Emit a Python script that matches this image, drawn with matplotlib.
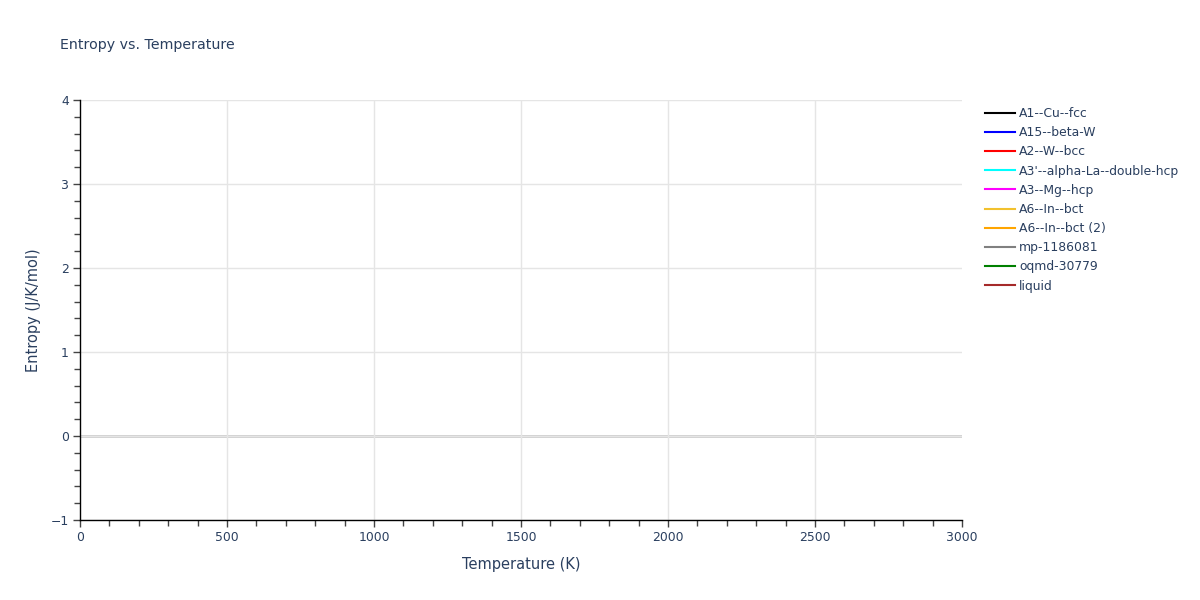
import matplotlib
matplotlib.use("Agg")
import matplotlib.pyplot as plt
from matplotlib.ticker import MultipleLocator, FuncFormatter

# Data (the reference chart contains no visible curve points)
phases = ["A1--Cu--fcc", "A15--beta-W", "A2--W--bcc", "A3'--alpha-La--double-hcp",
          "A3--Mg--hcp", "A6--In--bct", "A6--In--bct (2)", "mp-1186081",
          "oqmd-30779", "liquid"]
colors = ["black", "blue", "red", "cyan", "magenta", "#F2C12E", "orange",
          "grey", "green", "brown"]
temperatures = {p: [] for p in phases}
entropies = {p: [] for p in phases}

plt.rcParams['font.family'] = ['DejaVu Sans']
txt = "#2a3f5f"

fig = plt.figure(figsize=(12, 6), dpi=100)
ax = fig.add_axes([80/1200, 80/600, (962-80)/1200, 420/600])

handles = []
for p, c in zip(phases, colors):
    h, = ax.plot(temperatures[p], entropies[p], color=c, lw=1.5, label=p)
    handles.append(h)

ax.set_xlim(0, 3000)
ax.set_ylim(-1, 4)
ax.xaxis.set_major_locator(MultipleLocator(500))
ax.xaxis.set_minor_locator(MultipleLocator(100))
ax.yaxis.set_major_locator(MultipleLocator(1))
ax.yaxis.set_minor_locator(MultipleLocator(0.2))
ax.yaxis.set_major_formatter(FuncFormatter(lambda v, _: f"{v:g}".replace("-", "\u2212")))

ax.grid(True, which='major', color="#e5e5e5", lw=1)
ax.axhline(0, color="#cccccc", lw=2, zorder=1)
for s in ['top', 'right']:
    ax.spines[s].set_visible(False)
for s in ['left', 'bottom']:
    ax.spines[s].set_color('black')
    ax.spines[s].set_linewidth(1)

ax.tick_params(which='both', direction='out', colors='#444444', labelcolor=txt,
               labelsize=8.9, width=1)
ax.tick_params(which='major', length=5, pad=3)
ax.tick_params(which='minor', length=4)

ax.set_xlabel("Temperature (K)", color=txt, fontsize=10.5, labelpad=9)
ax.set_ylabel("Entropy (J/K/mol)", color=txt, fontsize=10.5, labelpad=7)

fig.text(60/1200, 1-45/600, "Entropy vs. Temperature", color=txt, fontsize=10.2,
         va='center', ha='left')

fig.legend(handles=handles, loc='upper left', bbox_to_anchor=(985/1200, 1-107/600),
           frameon=False, fontsize=8.9, labelcolor=txt, handlelength=2.4,
           handletextpad=0.35, labelspacing=0.5, borderpad=0, borderaxespad=0)

fig.canvas.draw()
for loc, gl in zip(ax.xaxis.get_majorticklocs(), ax.get_xgridlines()):
    if loc >= 3000 or loc <= 0:
        gl.set_visible(False)

fig.savefig("out.png", dpi=100)
